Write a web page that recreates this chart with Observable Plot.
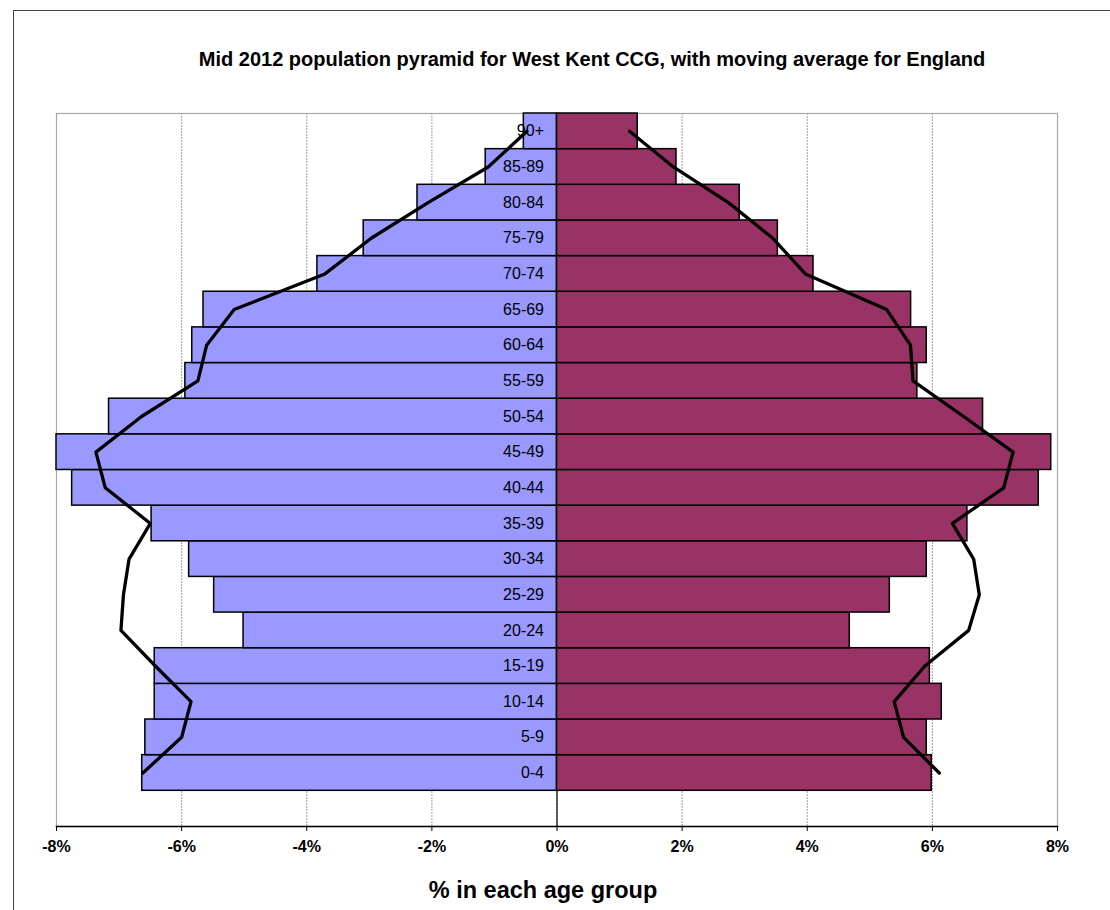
<!DOCTYPE html>
<html>
<head>
<meta charset="utf-8">
<script src="https://cdn.jsdelivr.net/npm/d3@7"></script>
<script src="https://cdn.jsdelivr.net/npm/@observablehq/plot@0.6"></script>
<style>
  html, body { margin: 0; padding: 0; background: #fff; }
  body { width: 1110px; height: 910px; overflow: hidden; position: relative; font-family: Arial, "Liberation Sans", sans-serif; }
  #border { position: absolute; left: 13px; top: 10px; width: 1300px; height: 1100px; border: 1.5px solid #444; box-sizing: border-box; }
  #title { position: absolute; left: 0; top: 47px; width: 1184px; text-align: center; font-weight: bold; font-size: 20px; line-height: 24px; color: #000; }
  #xlabel { position: absolute; left: 0; top: 875px; width: 1086px; text-align: center; font-weight: bold; font-size: 23.5px; line-height: 30px; color: #000; }
  #chart { position: absolute; left: 0; top: 0; }
</style>
</head>
<body>
<div id="border"></div>
<div id="title">Mid 2012 population pyramid for West Kent CCG, with moving average for England</div>
<div id="chart"></div>
<div id="xlabel">% in each age group</div>
<script>
// Age groups, bottom to top
const ages = ["0-4","5-9","10-14","15-19","20-24","25-29","30-34","35-39","40-44","45-49","50-54","55-59","60-64","65-69","70-74","75-79","80-84","85-89","90+"];
// West Kent CCG, % in each age group (left side, blue)
const westKentMale = [6.63, 6.58, 6.43, 6.43, 5.01, 5.48, 5.88, 6.48, 7.75, 8.00, 7.16, 5.94, 5.83, 5.65, 3.83, 3.09, 2.23, 1.14, 0.53];
// West Kent CCG, % in each age group (right side, purple)
const westKentFemale = [5.99, 5.91, 6.15, 5.96, 4.68, 5.32, 5.91, 6.56, 7.70, 7.90, 6.81, 5.76, 5.91, 5.66, 4.10, 3.53, 2.92, 1.91, 1.29];
// England moving average (left side)
const englandMale = [6.62, 6.00, 5.85, 6.42, 6.97, 6.93, 6.84, 6.50, 7.22, 7.37, 6.64, 5.74, 5.60, 5.16, 3.71, 2.97, 2.06, 1.10, 0.48];
// England moving average (right side)
const englandFemale = [6.11, 5.54, 5.39, 5.88, 6.58, 6.75, 6.66, 6.32, 7.14, 7.29, 6.50, 5.69, 5.65, 5.27, 3.97, 3.45, 2.74, 1.86, 1.16];
// x-axis ticks
const xTicks = [-8, -6, -4, -2, 0, 2, 4, 6, 8];
const xTickLabels = ["-8%", "-6%", "-4%", "-2%", "0%", "2%", "4%", "6%", "8%"];

const rows = ages.map((age, i) => ({
  age,
  male: westKentMale[i],
  female: westKentFemale[i],
  engM: englandMale[i],
  engF: englandFemale[i]
}));

const chart = Plot.plot({
  width: 1110,
  height: 880,
  marginTop: 113,
  marginLeft: 56,
  marginRight: 53,
  marginBottom: 54,
  style: { fontFamily: "Arial, 'Liberation Sans', sans-serif", fontSize: "16px", color: "#000", background: "transparent", overflow: "visible" },
  x: { domain: [-8, 8], label: null },
  y: { domain: ages.slice().reverse(), padding: 0, round: false, insetBottom: 35.7, axis: null, label: null },
  marks: [
    Plot.gridX(xTicks, { stroke: "#a0a0a0", strokeOpacity: 1, strokeWidth: 1, strokeDasharray: "2,1" }),
    Plot.frame({ stroke: "#a8a8a8", strokeWidth: 1.2 }),
    Plot.ruleX([0], { stroke: "#000", strokeWidth: 1.2 }),
    Plot.barX(rows, { x1: 0, x2: d => -d.male, y: "age", fill: "#9999FF", stroke: "#000", strokeWidth: 1.5 }),
    Plot.barX(rows, { x1: 0, x2: "female", y: "age", fill: "#993366", stroke: "#000", strokeWidth: 1.5 }),
    Plot.text(rows, { x: 0, y: "age", text: "age", textAnchor: "end", dx: -13, fontSize: 16, fill: "#000" }),
    Plot.line(rows, { x: d => -d.engM, y: "age", stroke: "#000", strokeWidth: 3.3 }),
    Plot.line(rows, { x: "engF", y: "age", stroke: "#000", strokeWidth: 3.3 }),
    Plot.frame({ anchor: "bottom", stroke: "#000", strokeWidth: 1.5 }),
    Plot.axisX(xTicks, { tickSize: 5, tickPadding: 9, fontSize: 16, fontWeight: "bold", stroke: "#000", fill: "#000", tickFormat: d => xTickLabels[xTicks.indexOf(d)], label: null })
  ]
});
document.getElementById("chart").appendChild(chart);
</script>
</body>
</html>
